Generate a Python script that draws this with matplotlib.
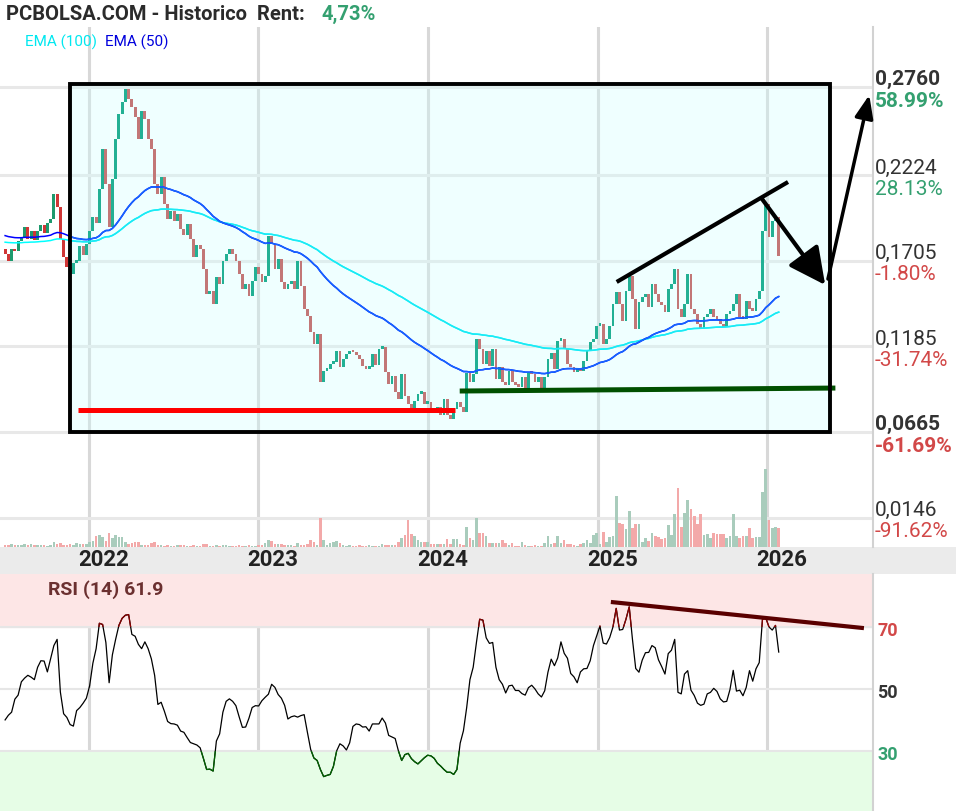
import numpy as np
import pandas as pd
import matplotlib
matplotlib.use("Agg")
import matplotlib.pyplot as plt
import matplotlib.dates as mdates
from matplotlib.patches import Rectangle

plt.rcParams['font.family'] = ['Roboto', 'DejaVu Sans']

# Cierres semanales (jul 2021 - feb 2026)
cierres = [
    0.1746, 0.1704, 0.1777, 0.1764, 0.1825, 0.1850, 0.1910, 0.1837, 0.1886, 0.1831,
    0.1886, 0.1922, 0.1874, 0.1935, 0.1959, 0.2110, 0.2032, 0.1837, 0.1728, 0.1667,
    0.1625, 0.1692, 0.1704, 0.1795, 0.1740, 0.1807, 0.1886, 0.1971, 0.1935, 0.2141,
    0.2384, 0.2171, 0.1910, 0.2202, 0.2444, 0.2596, 0.2669, 0.2748, 0.2687, 0.2639,
    0.2578, 0.2444, 0.2614, 0.2566, 0.2444, 0.2384, 0.2171, 0.2110, 0.2214, 0.2050,
    0.1959, 0.2007, 0.1947, 0.1989, 0.1898, 0.1862, 0.1928, 0.1837, 0.1728, 0.1801,
    0.1777, 0.1655, 0.1504, 0.1522, 0.1443, 0.1607, 0.1564, 0.1704, 0.1746, 0.1777,
    0.1746, 0.1704, 0.1625, 0.1534, 0.1564, 0.1491, 0.1582, 0.1667, 0.1625, 0.1576,
    0.1613, 0.1856, 0.1807, 0.1655, 0.1716, 0.1576, 0.1534, 0.1564, 0.1582, 0.1534,
    0.1704, 0.1552, 0.1412, 0.1370, 0.1273, 0.1200, 0.1261, 0.0969, 0.1036, 0.1048,
    0.1079, 0.1091, 0.1157, 0.1060, 0.1109, 0.1139, 0.1157, 0.1151, 0.1133, 0.1109,
    0.1067, 0.1048, 0.1060, 0.1139, 0.1073, 0.1170, 0.1182, 0.1030, 0.0957, 0.1006,
    0.0909, 0.0866, 0.1018, 0.0884, 0.0836, 0.0805, 0.0854, 0.0897, 0.0909, 0.0836,
    0.0848, 0.0805, 0.0793, 0.0818, 0.0769, 0.0866, 0.0769, 0.0745, 0.0805, 0.0848,
    0.0818, 0.0787, 0.1024, 0.0969, 0.1018, 0.1230, 0.1170, 0.1079, 0.1157, 0.1067,
    0.1170, 0.0988, 0.1060, 0.0969, 0.0951, 0.1036, 0.0969, 0.0951, 0.0939, 0.1000,
    0.0927, 0.1024, 0.1018, 0.0969, 0.1000, 0.0927, 0.1000, 0.1109, 0.1145, 0.1048,
    0.1218, 0.1230, 0.1170, 0.1079, 0.1060, 0.1030, 0.1048, 0.1036, 0.1097, 0.1157,
    0.1212, 0.1230, 0.1309, 0.1321, 0.1200, 0.1230, 0.1309, 0.1443, 0.1516, 0.1443,
    0.1340, 0.1522, 0.1613, 0.1473, 0.1291, 0.1455, 0.1485, 0.1504, 0.1425, 0.1564,
    0.1504, 0.1455, 0.1437, 0.1394, 0.1534, 0.1564, 0.1655, 0.1412, 0.1364, 0.1443,
    0.1625, 0.1412, 0.1382, 0.1321, 0.1291, 0.1364, 0.1382, 0.1412, 0.1364, 0.1352,
    0.1321, 0.1303, 0.1382, 0.1400, 0.1443, 0.1504, 0.1364, 0.1352, 0.1461, 0.1412,
    0.1400, 0.1473, 0.1522, 0.1886, 0.2050, 0.1850, 0.1947, 0.1971, 0.1736,
]
apertura_ini = 0.1777

# Volumen semanal (unidades relativas)
volumen = [
    2, 2, 3, 2, 2, 2, 3, 2, 3, 2, 2, 2, 2, 1, 2, 5, 3, 4, 2, 2, 3, 2, 4, 3, 3, 3,
    5, 6, 11, 12, 10, 6, 14, 9, 12, 10, 10, 5, 3, 4, 5, 5, 2, 2, 2, 4, 5, 2, 2,
    1, 2, 1, 1, 2, 2, 2, 1, 1, 2, 1, 1, 3, 3, 1, 1, 2, 1, 2, 2, 1, 1, 1, 2, 1, 1, 2, 1, 1, 2, 2,
    4, 7, 6, 3, 3, 3, 2, 2, 2, 1, 4, 2, 2, 3, 7, 5, 2, 29, 7, 2, 4, 5, 6, 4,
    2, 1, 2, 1, 1, 2, 1, 1, 2, 1, 1, 1, 3, 2, 2, 2, 2, 5,
    9, 12, 27, 13, 11, 7, 5, 5, 5, 3, 3, 3, 3, 3, 8, 3, 8, 8, 3, 2, 20, 9, 7, 29,
    14, 14, 11, 4, 4, 4, 4, 7, 4, 2, 4, 1, 1, 5, 2, 1, 1, 2, 1, 1, 4, 11, 3, 4, 11,
    4, 7, 3, 3, 2, 1, 3, 4, 7, 4, 12, 14, 3, 15, 5, 10, 11,
    51, 24, 23, 18, 36, 19, 23, 23, 5, 9, 6, 14, 11, 10, 8, 9, 22, 12, 33, 59,
    20, 34, 47, 38, 31, 23, 33, 12, 13, 9, 14, 13, 13, 13, 9, 11, 33, 11, 9, 11,
    11, 19, 9, 10, 10, 55, 78, 27, 19, 20, 19,
]

rsi14 = [
    40.0, 41.5, 42.5, 46.7, 48.0, 52.3, 53.5, 54.4, 53.8, 53.0,
    57.0, 59.1, 59.0, 55.5, 59.8, 64.0, 66.0, 49.0, 42.0, 40.8,
    38.5, 38.0, 43.0, 44.0, 45.4, 47.0, 51.0, 58.3, 63.0, 71.2,
    70.8, 65.0, 52.0, 61.0, 66.0, 70.5, 72.8, 73.8, 74.0, 67.6,
    67.0, 64.4, 63.0, 65.2, 63.0, 59.7, 54.4, 45.0, 45.7, 42.8,
    39.5, 38.8, 38.7, 38.3, 36.4, 36.0, 34.3, 32.7, 32.3, 31.9,
    31.0, 27.6, 24.0, 24.1, 23.5, 33.2, 35.5, 42.5, 46.0, 46.8,
    46.0, 44.6, 41.0, 37.6, 37.7, 40.5, 44.0, 44.6, 44.5, 46.2,
    47.3, 48.3, 51.5, 50.5, 48.2, 47.0, 44.7, 40.3, 41.0, 41.3,
    40.9, 41.4, 41.7, 36.0, 30.5, 27.7, 26.9, 24.0, 21.7, 22.1,
    22.4, 25.0, 30.0, 32.3, 31.6, 30.3, 32.6, 37.9, 38.7, 38.5,
    37.7, 37.8, 36.4, 38.7, 38.7, 38.7, 40.6, 39.0, 35.0, 34.5,
    34.0, 30.0, 26.9, 28.8, 29.2, 27.5, 26.5, 25.8, 26.8, 27.8,
    28.6, 28.4, 27.6, 26.0, 25.1, 24.0, 23.1, 23.1, 22.4, 24.0,
    32.5, 36.5, 44.0, 53.0, 57.0, 65.0, 72.5, 72.2, 66.5, 64.7,
    65.0, 57.0, 53.0, 51.5, 48.7, 51.0, 51.2, 49.5, 49.5, 48.5,
    48.0, 50.4, 51.2, 50.0, 48.4, 47.4, 49.4, 55.4, 59.6, 57.5,
    60.0, 65.2, 61.5, 59.9, 55.0, 53.9, 52.0, 55.5, 56.5, 56.6,
    59.1, 64.0, 67.2, 70.3, 64.8, 64.5, 66.6, 70.0, 76.0, 69.0,
    69.2, 72.5, 76.5, 66.0, 56.6, 55.4, 59.3, 61.7, 61.8, 64.0,
    63.3, 59.4, 57.2, 54.8, 61.4, 62.5, 66.0, 48.9, 48.4, 54.8,
    55.9, 49.6, 47.9, 45.4, 44.7, 45.1, 48.4, 48.9, 50.2, 49.2,
    46.8, 45.8, 46.0, 49.8, 56.0, 49.3, 49.6, 47.8, 50.5, 55.9,
    52.5, 56.5, 58.5, 72.5, 73.0, 70.0, 69.0, 70.5, 61.9,
]

fechas = pd.date_range("2021-07-05", periods=len(cierres), freq="7D")

ema50_ini = 0.1862
ema100_ini = 0.1819

niveles = [0.2760, 0.2224, 0.1705, 0.1185, 0.0665, 0.0146]
etiquetas = ["0,2760", "0,2224", "0,1705", "0,1185", "0,0665", "0,0146"]
porcentajes = ["58.99%", "28.13%", "-1.80%", "-31.74%", "-61.69%", "-91.62%"]
negrita = [True, False, False, False, True, False]
anios = [2022, 2023, 2024, 2025, 2026]


def ema(valores, n, inicio):
    a = 2.0 / (n + 1)
    e = inicio
    salida = []
    for v in valores:
        e = a * v + (1 - a) * e
        salida.append(e)
    return np.array(salida)


c = np.array(cierres)
o = np.r_[apertura_ini, c[:-1]]
sube = c >= o
xs = mdates.date2num(fechas)
e50 = ema(c, 50, ema50_ini)
e100 = ema(c, 100, ema100_ini)
r = np.array(rsi14)

W, H = 956, 812


def caja(x0, y0, x1, y1):
    return [x0 / W, 1 - y1 / H, (x1 - x0) / W, (y1 - y0) / H]


fig = plt.figure(figsize=(W / 100, H / 100), dpi=100)
banda = fig.add_axes(caja(0, 548, 956, 575), zorder=0)
banda.set_facecolor("#ebebeb")
banda.set_xticks([])
banda.set_yticks([])
for s in banda.spines.values():
    s.set_visible(False)

ax = fig.add_axes(caja(0, 28, 873, 548), zorder=1)
axr = fig.add_axes(caja(0, 575, 873, 812), zorder=1)

x0 = mdates.date2num(pd.Timestamp("2021-06-24"))
x1 = mdates.date2num(pd.Timestamp("2026-08-17"))
años_x = [mdates.date2num(pd.Timestamp(f"{a}-01-01")) for a in anios]

for a in (ax, axr):
    a.set_xlim(x0, x1)
    a.set_xticks([])
    a.set_yticks([])
    for s in a.spines.values():
        s.set_visible(False)
    a.spines["right"].set_visible(True)
    a.spines["right"].set_color("#d2d2d2")
    a.spines["right"].set_linewidth(1.5)
    for xa in años_x:
        a.axvline(xa, color="#d8d8d8", lw=2.2, zorder=0)

ax.set_ylim(-0.0033, 0.3124)
for nv in niveles:
    ax.axhline(nv, color="#e8e8e8", lw=2.2, zorder=0)

# volumen
axv = ax.twinx()
axv.set_ylim(0, max(volumen) * 520 / 78)
axv.bar(xs, volumen, width=5.6, color=np.where(sube, "#a9ccbc", "#f3a9a9"), zorder=1)
axv.set_yticks([])
for s in axv.spines.values():
    s.set_visible(False)

# caja de la zona
caja_x0 = mdates.date2num(pd.Timestamp("2021-11-21"))
caja_x1 = mdates.date2num(pd.Timestamp("2026-05-17"))
ax.add_patch(Rectangle((caja_x0, 0.0665), caja_x1 - caja_x0, 0.2778 - 0.0665,
                       facecolor="#ccffff", alpha=0.3, edgecolor="none", zorder=1))

# velas
dentro = xs >= caja_x0
col = np.where(sube, np.where(dentro, "#22b094", "#1e9a6e"),
               np.where(dentro, "#c27777", "#d03636"))
altura = np.maximum(np.abs(c - o), 0.0015)
ax.bar(xs, altura, bottom=np.minimum(o, c), width=6.0, color=col, zorder=3)

# EMAs
for serie, c_fuera, c_dentro in [(e100, "#00ffff", "#1ce8f4"), (e50, "#0000ff", "#1466ff")]:
    ax.plot(xs, serie, color=c_fuera, lw=1.1, zorder=4)
    ln, = ax.plot(xs, serie, color=c_dentro, lw=1.1, zorder=4)
    ln.set_clip_path(Rectangle((caja_x0, 0.0665), caja_x1 - caja_x0, 0.2113,
                               transform=ax.transData))

ax.add_patch(Rectangle((caja_x0, 0.0665), caja_x1 - caja_x0, 0.2778 - 0.0665,
                       facecolor="none", edgecolor="black", lw=2.8, zorder=6))

fx = lambda s: mdates.date2num(pd.Timestamp(s))
ax.plot([fx("2021-12-08"), fx("2024-02-28")], [0.0799, 0.0799], color="#ff0000", lw=3.6,
        solid_capstyle="butt", zorder=5)
ax.plot([fx("2024-03-10"), fx("2026-05-28")], [0.0914, 0.0932], color="#005000", lw=3.6,
        solid_capstyle="butt", zorder=5)
ax.plot([fx("2025-02-11"), fx("2026-02-15")], [0.1576, 0.2183], color="black", lw=3,
        solid_capstyle="butt", zorder=5)
ax.annotate("", xy=(fx("2026-05-06"), 0.1558), xytext=(fx("2025-12-21"), 0.2080),
            arrowprops=dict(arrowstyle="-|>,head_length=0.5,head_width=0.25", lw=3,
                            color="black", mutation_scale=45, shrinkA=0, shrinkB=0),
            zorder=6)
ax.annotate("", xy=(fx("2026-08-09"), 0.2711), xytext=(fx("2026-05-12"), 0.1594),
            arrowprops=dict(arrowstyle="-|>,head_length=0.5,head_width=0.2", lw=2.5,
                            color="black", mutation_scale=28, shrinkA=0, shrinkB=0),
            zorder=6, annotation_clip=False)

# etiquetas de precio a la derecha
for nv, et, pc, nb in zip(niveles, etiquetas, porcentajes, negrita):
    color_pc = "#34a070" if not pc.startswith("-") else "#d24848"
    peso = "bold" if nb else "normal"
    ax.annotate(et, xy=(1, nv), xycoords=("axes fraction", "data"), xytext=(1.5, 6),
                textcoords="offset points", ha="left", va="center", fontsize=15,
                color="#333333", weight=peso, annotation_clip=False)
    ax.annotate(pc, xy=(1, nv), xycoords=("axes fraction", "data"), xytext=(1.5, -9.5),
                textcoords="offset points", ha="left", va="center", fontsize=15,
                color=color_pc, weight=peso, annotation_clip=False)

for a, xa in zip(anios, años_x):
    ax.annotate(str(a), xy=(xa, 0), xycoords=("data", "axes fraction"), xytext=(10.5, -9),
                textcoords="offset points", ha="center", va="center", fontsize=16,
                weight="bold", color="#222222", annotation_clip=False)

# RSI
axr.set_ylim(10.6, 87.1)
axr.axhspan(70, 100, color="#fde6e6", zorder=0)
axr.axhspan(0, 30, color="#e6fde6", zorder=0)
for nv in (30, 50, 70):
    axr.axhline(nv, color="#e6e6e6", lw=1.5, zorder=0.5)
axr.plot(xs, r, color="black", lw=0.9, zorder=3)
l_alto, = axr.plot(xs, r, color="#8b0000", lw=0.9, zorder=3)
l_alto.set_clip_path(Rectangle((x0, 70), x1 - x0, 30, transform=axr.transData))
l_bajo, = axr.plot(xs, r, color="#006400", lw=0.9, zorder=3)
l_bajo.set_clip_path(Rectangle((x0, 0), x1 - x0, 30, transform=axr.transData))
axr.plot([fx("2025-02-03"), fx("2026-07-24")], [78.0, 69.7], color="#5a0000", lw=3,
         zorder=4)
axr.text(48 / 873, 0.937, "RSI (14) 61.9", transform=axr.transAxes, fontsize=14,
         weight="bold", color="#6b3030", va="center")
for nv, cl in [(70, "#d24848"), (50, "#333333"), (30, "#34a070")]:
    axr.annotate(str(nv), xy=(1, nv), xycoords=("axes fraction", "data"), xytext=(3, -2.5),
                 textcoords="offset points", ha="left", va="center", fontsize=13,
                 weight="bold", color=cl, annotation_clip=False)

# titulo y leyenda
fig.text(6 / W, 1 - 14 / H, "PCBOLSA.COM - Historico  Rent:", fontsize=14.5,
         weight="bold", color="#2b2b2b", va="center")
fig.text(322 / W, 1 - 14 / H, "4,73%", fontsize=14.5, weight="bold", color="#34a070",
         va="center")
fig.text(25 / W, 1 - 42 / H, "EMA (100)", fontsize=11, color="#00e8f0", va="center")
fig.text(105 / W, 1 - 42 / H, "EMA (50)", fontsize=11, color="#0000dd", va="center")

fig.savefig("out.png", dpi=100)
